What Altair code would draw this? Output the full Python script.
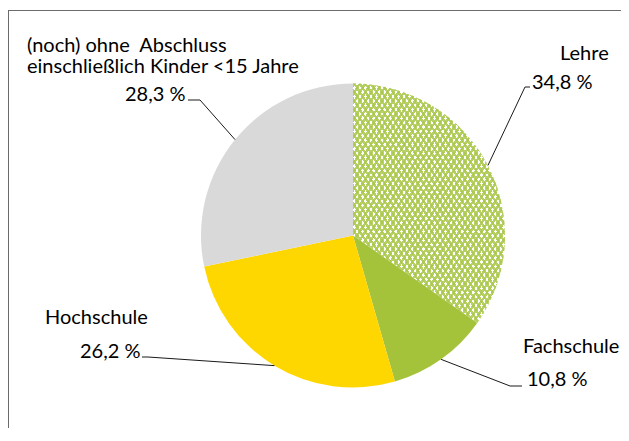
import math
import altair as alt
import pandas as pd

# ---- data ----
categories = ["Lehre", "Fachschule", "Hochschule", "(noch) ohne Abschluss"]
values = [34.8, 10.8, 26.2, 28.3]
name_line1 = ["Lehre", "Fachschule", "Hochschule", "(noch) ohne\u00a0 Abschluss"]
name_line2 = ["", "", "", "einschließlich Kinder <15 Jahre"]

# ---- style / layout ----
slice_colors = ["#ffffff", "#a5c23b", "#ffd700", "#d9d9d9"]
pattern_green = "#a9c84a"
W, H = 613, 420
CX, CY, R = 345, 227.5, 152
FONT = "Lato"
FS = 20
name_pos = {"Lehre": (552, 46), "Fachschule": (515, 339), "Hochschule": (37, 310),
            "(noch) ohne Abschluss": (19, 38)}
pct_pos = {"Lehre": (524, 75), "Fachschule": (519, 372), "Hochschule": (72, 344),
           "(noch) ohne Abschluss": (117, 87)}
elbow = {"Lehre": (517, 79), "Fachschule": (502, 378), "Hochschule": (140, 349),
         "(noch) ohne Abschluss": (192, 92)}
hend = {"Lehre": (522, 79), "Fachschule": (514, 378), "Hochschule": (134, 349),
        "(noch) ohne Abschluss": (180, 92)}

total = sum(values)
starts, ends = [], []
acc = 0.0
for v in values:
    starts.append(acc)
    acc += v
    ends.append(acc)

df = pd.DataFrame({
    "cat": categories,
    "value": values,
    "start": starts,
    "end": ends,
    "mid": [(s + e) / 2 for s, e in zip(starts, ends)],
    "elx": [elbow[c][0] for c in categories],
    "ely": [elbow[c][1] for c in categories],
    "hx": [hend[c][0] for c in categories],
    "hy": [hend[c][1] for c in categories],
})

theta_scale = alt.Scale(domain=[0, total], range=[0, 2 * math.pi])

base_arc = alt.Chart(df).mark_arc(outerRadius=R, stroke=None).encode(
    theta=alt.Theta("start:Q", scale=theta_scale),
    theta2="end:Q",
    color=alt.Color("cat:N", scale=alt.Scale(domain=categories, range=slice_colors), legend=None),
    x=alt.value(CX), y=alt.value(CY),
)


def stripes(x1, y1, x2, y2, n=55):
    stops = []
    for i in range(n):
        o0 = i / n
        o1 = (i + 0.5) / n
        o2 = (i + 1) / n
        stops += [
            alt.GradientStop(color=pattern_green, offset=o0),
            alt.GradientStop(color=pattern_green, offset=o1),
            alt.GradientStop(color="rgba(255,255,255,0)", offset=o1),
            alt.GradientStop(color="rgba(255,255,255,0)", offset=o2),
        ]
    return alt.LinearGradient(gradient="linear", stops=stops, x1=x1, y1=y1, x2=x2, y2=y2)


def pattern_layer(grad):
    return alt.Chart(df).transform_filter(
        alt.datum.cat == "Lehre"
    ).mark_arc(outerRadius=R, stroke=None, fill=grad, opacity=0.85).encode(
        theta=alt.Theta("start:Q", scale=theta_scale),
        theta2="end:Q",
        x=alt.value(CX), y=alt.value(CY),
    )


pat1 = pattern_layer(stripes(0, 0, 1, 1))
pat2 = pattern_layer(stripes(1, 0, 0, 1))

lead_base = alt.Chart(df).transform_calculate(
    ang=f"datum.mid / {total} * 2 * PI",
).transform_calculate(
    ex=f"{CX} + {R} * sin(datum.ang)",
    ey=f"{CY} - {R} * cos(datum.ang)",
)
leader1 = lead_base.mark_rule(color="#1a1a1a", strokeWidth=1).encode(
    x=alt.X("ex:Q", scale=None, axis=None),
    y=alt.Y("ey:Q", scale=None, axis=None),
    x2="elx:Q",
    y2="ely:Q",
)
leader2 = lead_base.mark_rule(color="#1a1a1a", strokeWidth=1).encode(
    x=alt.X("elx:Q", scale=None, axis=None),
    y=alt.Y("ely:Q", scale=None, axis=None),
    x2="hx:Q",
    y2="hy:Q",
)

rows = []
for c, l1, l2, v in zip(categories, name_line1, name_line2, values):
    nx, ny = name_pos[c]
    rows.append({"t": l1, "x": nx, "y": ny})
    if l2:
        rows.append({"t": l2, "x": nx, "y": ny + 21})
    px, py = pct_pos[c]
    rows.append({"t": f"{v:.1f}".replace(".", ",") + " %", "x": px, "y": py})
tdf = pd.DataFrame(rows)

texts = alt.Chart(tdf).mark_text(
    align="left", baseline="middle", font=FONT, fontSize=FS, color="#000000"
).encode(
    x=alt.X("x:Q", scale=None, axis=None),
    y=alt.Y("y:Q", scale=None, axis=None),
    text="t:N",
)

# chart frame (top and left edges) as thin filled bars
frame_df = pd.DataFrame({
    "x1": [0.0, 0.0], "y1": [2.0, 2.0], "x2": [float(W), 1.0], "y2": [3.0, float(H)]
})
frame = alt.Chart(frame_df).mark_rect(color="#6b6b6b", strokeWidth=0).encode(
    x=alt.X("x1:Q", scale=None, axis=None),
    y=alt.Y("y1:Q", scale=None, axis=None),
    x2="x2:Q",
    y2="y2:Q",
)

chart = alt.layer(
    frame, base_arc, pat1, pat2, leader1, leader2, texts
).resolve_scale(x="independent", y="independent").properties(
    width=W, height=H, autosize=alt.AutoSizeParams(type="none"), padding=0
).configure_view(stroke="transparent", strokeWidth=0)

chart.save("out.html", embed_options={"renderer": "svg", "actions": False})
